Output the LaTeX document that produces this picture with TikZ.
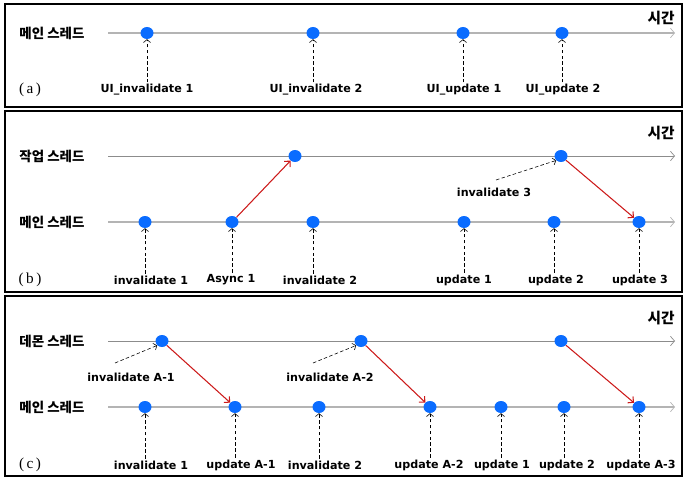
\documentclass[tikz,border=0pt]{standalone}
\usepackage{fontspec}
\setmainfont{DejaVu Sans}
\newfontfamily\krfont{Noto Sans CJK KR}
\newfontfamily\tagfont{Liberation Serif}
\usepackage{tikz}
\usetikzlibrary{arrows.meta}
\usetikzlibrary{shapes.geometric}

\definecolor{dotblue}{HTML}{0A6CFF}
\definecolor{handred}{HTML}{CC1A1A}
\definecolor{mainline}{HTML}{B4B4B4}
\definecolor{workline}{HTML}{8C8C8C}

\begin{document}
\begin{tikzpicture}[x=0.03cm,y=-0.03cm,
    panel/.style={draw=black,line width=1.5pt},
    event/.style={ellipse,fill=dotblue,inner sep=0pt,minimum width=13*0.03cm,minimum height=12*0.03cm},
    mainaxis/.style={draw=mainline,line width=1.2pt,-{Straight Barb[length=3.5pt,width=8pt,line width=0.6pt]}},
    sideaxis/.style={draw=workline,line width=0.6pt,-{Straight Barb[length=3.5pt,width=8pt,line width=0.6pt]}},
    threadname/.style={font=\krfont\bfseries\fontsize{11.5}{13}\selectfont,inner sep=1pt},
    timename/.style={font=\krfont\bfseries\fontsize{12.5}{14}\selectfont,inner sep=1pt},
    tag/.style={font=\bfseries\fontsize{9.5}{11}\selectfont,inner sep=1.5pt},
    caption/.style={font=\tagfont\fontsize{13}{15}\selectfont,inner sep=1pt},
    hint/.style={densely dashed,line width=0.5pt,-{Straight Barb[length=2.5pt,width=6pt,line width=0.5pt]}},
    handoff/.style={draw=handred,line width=0.9pt,-{Straight Barb[length=3.5pt,width=7pt,line width=0.9pt]}}]
  \useasboundingbox (0,0) rectangle (688,479);

  % (a) main thread only
  \begin{scope}
    \draw[panel] (5,4) rectangle (682,107);
    \node[threadname] (am) at (52,33) {메인 스레드};
    \node[timename] (at) at (661,18) {시간};
    \node[caption] (ac) at (30,90) {(\,a\,)};
    \coordinate (am-s) at (108,33);
    \coordinate (am-e) at (675,33);
    \draw[mainaxis] (am-s) -- (am-e);
    \node[event] (a1) at (147,33) {};
    \node[event] (a2) at (313,33) {};
    \node[event] (a3) at (463,33) {};
    \node[event] (a4) at (562,33) {};
    \node[tag] (al1) at (147,90) {UI\_invalidate 1};
    \node[tag] (al2) at (316,90) {UI\_invalidate 2};
    \node[tag] (al3) at (464,90) {UI\_update 1};
    \node[tag] (al4) at (563,90) {UI\_update 2};
    \foreach \i in {1,...,4}
      \draw[hint] (a\i |- al\i.north) -- (a\i.south);
  \end{scope}

  % (b) worker thread
  \begin{scope}[shift={(0,111)}]
    \draw[panel] (5,0) rectangle (682,181);
    \node[threadname] (bw) at (52,45) {작업 스레드};
    \node[threadname] (bm) at (52,111) {메인 스레드};
    \node[timename] (bt) at (661,22) {시간};
    \node[caption] (bc) at (30,169) {(\,b\,)};
    \coordinate (bw-s) at (108,45);
    \coordinate (bw-e) at (675,45);
    \coordinate (bm-s) at (108,111);
    \coordinate (bm-e) at (675,111);
    \draw[sideaxis] (bw-s) -- (bw-e);
    \draw[mainaxis] (bm-s) -- (bm-e);
    \node[event] (b1) at (145,111) {};
    \node[event] (b2) at (232,111) {};
    \node[event] (b3) at (313,111) {};
    \node[event] (b4) at (464,111) {};
    \node[event] (b5) at (554,111) {};
    \node[event] (b6) at (639,111) {};
    \node[event] (bw1) at (295,45) {};
    \node[event] (bw2) at (561,45) {};
    \node[tag] (bl1) at (151,169) {invalidate 1};
    \node[tag] (bl2) at (231,169) {Async 1};
    \node[tag] (bl3) at (320,169) {invalidate 2};
    \node[tag] (bl4) at (464,169) {update 1};
    \node[tag] (bl5) at (556,169) {update 2};
    \node[tag] (bl6) at (640,169) {update 3};
    \foreach \i in {1,...,6}
      \draw[hint] (b\i |- bl\i.north) -- (b\i.south);
    \node[tag] (bi3) at (494,81) {invalidate 3};
    \coordinate (bi3-s) at (496,69);
    \draw[hint] (bi3-s) -- (bw2.south west);
    \draw[handoff] (b2) -- (bw1);
    \draw[handoff] (bw2) -- (b6);
  \end{scope}

  % (c) daemon thread
  \begin{scope}[shift={(0,296)}]
    \draw[panel] (5,0) rectangle (682,180);
    \node[threadname] (cd) at (52,45) {데몬 스레드};
    \node[threadname] (cm) at (52,111) {메인 스레드};
    \node[timename] (ct) at (661,22) {시간};
    \node[caption] (cc) at (30,169) {(\,c\,)};
    \coordinate (cd-s) at (108,45);
    \coordinate (cd-e) at (675,45);
    \coordinate (cm-s) at (108,111);
    \coordinate (cm-e) at (675,111);
    \draw[sideaxis] (cd-s) -- (cd-e);
    \draw[mainaxis] (cm-s) -- (cm-e);
    \node[event] (c1) at (145,111) {};
    \node[event] (c2) at (235,111) {};
    \node[event] (c3) at (319,111) {};
    \node[event] (c4) at (430,111) {};
    \node[event] (c5) at (501,111) {};
    \node[event] (c6) at (564,111) {};
    \node[event] (c7) at (639,111) {};
    \node[event] (cd1) at (162,45) {};
    \node[event] (cd2) at (361,45) {};
    \node[event] (cd3) at (561,45) {};
    \node[tag] (cl1) at (151,169) {invalidate 1};
    \node[tag] (cl2) at (241,169) {update A-1};
    \node[tag] (cl3) at (325,169) {invalidate 2};
    \node[tag] (cl4) at (429,169) {update A-2};
    \node[tag] (cl5) at (502,169) {update 1};
    \node[tag] (cl6) at (567,169) {update 2};
    \node[tag] (cl7) at (641,169) {update A-3};
    \foreach \i in {1,...,7}
      \draw[hint] (c\i |- cl\i.north) -- (c\i.south);
    \node[tag] (ci1) at (131,81) {invalidate A-1};
    \node[tag] (ci2) at (330,81) {invalidate A-2};
    \coordinate (ci1-s) at (115,67);
    \coordinate (ci2-s) at (313,67);
    \draw[hint] (ci1-s) -- (cd1.south west);
    \draw[hint] (ci2-s) -- (cd2.south west);
    \draw[handoff] (cd1) -- (c2);
    \draw[handoff] (cd2) -- (c4);
    \draw[handoff] (cd3) -- (c7);
  \end{scope}
\end{tikzpicture}
\end{document}
